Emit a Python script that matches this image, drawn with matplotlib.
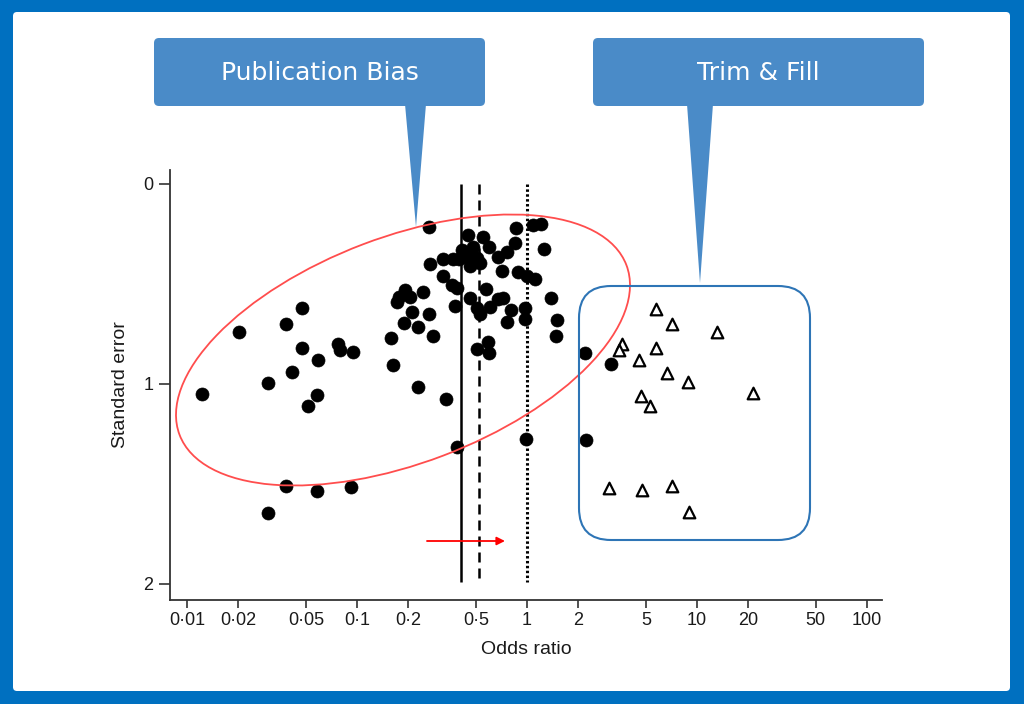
import matplotlib
matplotlib.use("Agg")
import matplotlib.pyplot as plt
from matplotlib.patches import FancyBboxPatch, Polygon, Ellipse
from matplotlib.transforms import Affine2D
from matplotlib import font_manager

# ---------------- data ----------------
or_obs = [0.0202, 0.0382, 0.0475, 0.0475, 0.059, 0.0773, 0.0794, 0.0947, 0.0415,
          0.265, 0.269, 0.321, 0.367, 0.321, 0.362, 0.377, 0.192, 0.177, 0.205,
          0.172, 0.245, 0.211, 0.265, 0.189, 0.229, 0.280, 0.158, 0.163,
          0.01225, 0.030, 0.0582, 0.0515, 0.229, 0.334, 0.388, 0.0382, 0.0582,
          0.0922, 0.030,
          0.450, 0.551, 0.415, 0.481, 0.598, 0.675, 0.763, 0.850, 0.862, 1.085,
          1.21, 1.26, 0.444, 0.508, 0.398, 0.462, 0.529, 0.713, 0.885, 1.0,
          1.115, 0.388, 0.574, 0.462, 0.508, 0.529, 0.606, 0.675, 0.722, 0.805,
          0.763, 0.973, 0.973, 1.384, 1.50, 1.48, 0.508, 0.590, 0.598, 2.19,
          0.987, 2.22, 3.12]
se_obs = [0.74, 0.70, 0.62, 0.82, 0.88, 0.80, 0.83, 0.84, 0.94,
          0.215, 0.40, 0.375, 0.375, 0.46, 0.505, 0.61, 0.53, 0.565, 0.565,
          0.59, 0.54, 0.64, 0.65, 0.695, 0.715, 0.76, 0.77, 0.905,
          1.05, 0.995, 1.055, 1.11, 1.015, 1.075, 1.315, 1.51, 1.535,
          1.515, 1.645,
          0.255, 0.265, 0.33, 0.315, 0.315, 0.365, 0.34, 0.295, 0.22, 0.205,
          0.20, 0.325, 0.365, 0.37, 0.375, 0.41, 0.395, 0.435, 0.44, 0.46,
          0.475, 0.52, 0.525, 0.57, 0.62, 0.65, 0.615, 0.575, 0.57, 0.63,
          0.69, 0.62, 0.675, 0.57, 0.68, 0.76, 0.825, 0.79, 0.845, 0.845,
          1.275, 1.28, 0.90]

or_fill = [5.74, 7.13, 13.1, 3.62, 3.48, 5.74, 4.56, 6.66, 8.85, 21.4, 4.69,
           5.29, 3.04, 4.75, 7.13, 8.97]
se_fill = [0.625, 0.70, 0.74, 0.80, 0.83, 0.82, 0.88, 0.945, 0.99, 1.045, 1.06,
           1.11, 1.52, 1.53, 1.51, 1.64]

line_solid = 0.41
line_dashed = 0.52
line_dotted = 1.0

arrow_from = 0.258
arrow_to = 0.742
arrow_se = 1.785

x_ticks = [0.01, 0.02, 0.05, 0.1, 0.2, 0.5, 1, 2, 5, 10, 20, 50, 100]
x_ticklabels = ["0\u00b701", "0\u00b702", "0\u00b705", "0\u00b71", "0\u00b72", "0\u00b75",
                "1", "2", "5", "10", "20", "50", "100"]
y_ticks = [0, 1, 2]
y_ticklabels = ["0", "1", "2"]

callout_texts = ["Publication Bias", "Trim & Fill"]

# ---------------- style ----------------
W, H = 1024, 704
FRAME_BLUE = "#0070C0"
CALLOUT_BLUE = "#4A8BC8"
RECT_BLUE = "#2E75B6"
ELL_RED = "#FF4D4D"

names = {f.name for f in font_manager.fontManager.ttflist}
tick_family = ["Liberation Sans Narrow"] if "Liberation Sans Narrow" in names else ["Liberation Sans"]
tick_size = 14 if tick_family[0] == "Liberation Sans Narrow" else 13

fig = plt.figure(figsize=(W / 100, H / 100), dpi=100)
fig.patch.set_facecolor(FRAME_BLUE)

# pixel transform (origin top-left, y down)
PX = Affine2D().scale(0.01, -0.01).translate(0, H / 100) + fig.dpi_scale_trans

# white panel
panel = FancyBboxPatch((13, 12), 1010 - 13, 691 - 12,
                       boxstyle="round,pad=0,rounding_size=4",
                       facecolor="white", edgecolor="none", transform=PX, zorder=-10)
fig.patches.append(panel)

# axes placement in px
ax_l, ax_r, ax_t, ax_b = 170, 882, 170, 600
ax = fig.add_axes([ax_l / W, 1 - ax_b / H, (ax_r - ax_l) / W, (ax_b - ax_t) / H])
ax.set_zorder(1)
ax.set_facecolor("none")
ax.set_xscale("log")
ax.set_xlim(10 ** ((ax_l - 527) / 170), 10 ** ((ax_r - 527) / 170))
ax.set_ylim((ax_b - 184) / 200, (ax_t - 184) / 200)

for s in ["top", "right"]:
    ax.spines[s].set_visible(False)
for s in ["left", "bottom"]:
    ax.spines[s].set_linewidth(1.3)
    ax.spines[s].set_color("#333333")

ax.set_xticks(x_ticks)
ax.set_xticklabels(x_ticklabels)
ax.xaxis.set_minor_locator(matplotlib.ticker.NullLocator())
ax.set_yticks(y_ticks)
ax.set_yticklabels(y_ticklabels)
ax.tick_params(axis="x", length=6, width=1.2, color="#333333", pad=2.5)
ax.tick_params(axis="y", length=8, width=1.2, color="#333333", pad=4)
for lab in ax.get_xticklabels() + ax.get_yticklabels():
    lab.set_family(tick_family)
    lab.set_fontsize(tick_size)
    lab.set_color("#1a1a1a")

ax.set_xlabel("Odds ratio", family=["Liberation Sans"], fontsize=14, color="#1a1a1a", labelpad=9)
ax.set_ylabel("Standard error", family=["Liberation Sans"], fontsize=14, color="#1a1a1a", labelpad=10)

# vertical reference lines
ax.vlines(line_solid, 0, 1.99, colors="black", linewidth=1.8, zorder=2)
ax.vlines(line_dashed, 0, 1.99, colors="black", linewidth=1.8, linestyles=(0, (4, 2.4)), zorder=2)
ax.vlines(line_dotted, 0, 1.99, colors="black", linewidth=2.2, linestyles=(0, (0.8, 0.8)), zorder=2)

# points
ax.scatter(or_obs, se_obs, s=88, c="black", edgecolors="black", linewidths=0.5, zorder=3)
ax.scatter(or_fill, se_fill, s=70, marker="^", facecolors="white", edgecolors="black",
           linewidths=1.6, zorder=3)

# red arrow
ax.annotate("", xy=(arrow_to, arrow_se), xytext=(arrow_from, arrow_se),
            arrowprops=dict(arrowstyle="-|>", color="red", lw=1.3, mutation_scale=12,
                            shrinkA=0, shrinkB=0), zorder=4)

# red ellipse (annotation, pixel space)
ell = Ellipse((403, 350), 478, 226, angle=-20.8, facecolor="none", edgecolor=ELL_RED,
              linewidth=1.3, transform=PX, zorder=5)
fig.patches.append(ell)

# blue rounded rect
rr = FancyBboxPatch((579, 286), 810 - 579, 540 - 286,
                    boxstyle="round,pad=0,rounding_size=32",
                    facecolor="none", edgecolor=RECT_BLUE, linewidth=1.5, transform=PX, zorder=5)
fig.patches.append(rr)

# callouts
def callout(x0, x1, y0, y1, base_l, base_r, tip, text):
    box = FancyBboxPatch((x0, y0), x1 - x0, y1 - y0,
                         boxstyle="round,pad=0,rounding_size=5",
                         facecolor=CALLOUT_BLUE, edgecolor="none", transform=PX, zorder=6)
    fig.patches.append(box)
    tri = Polygon([(base_l, y1 - 2), (base_r, y1 - 2), tip], closed=True,
                  facecolor=CALLOUT_BLUE, edgecolor="none", transform=PX, zorder=6)
    fig.patches.append(tri)
    fig.text(((x0 + x1) / 2) / W, 1 - ((y0 + y1) / 2 + 1) / H, text, color="white",
             fontsize=18, family=["DejaVu Sans"], ha="center", va="center", zorder=7)

callout(154, 485, 38, 106, 405, 426, (416, 227), callout_texts[0])
callout(593, 924, 38, 106, 687, 713, (700, 283), callout_texts[1])

fig.savefig("out.png", dpi=100, facecolor=fig.get_facecolor())
